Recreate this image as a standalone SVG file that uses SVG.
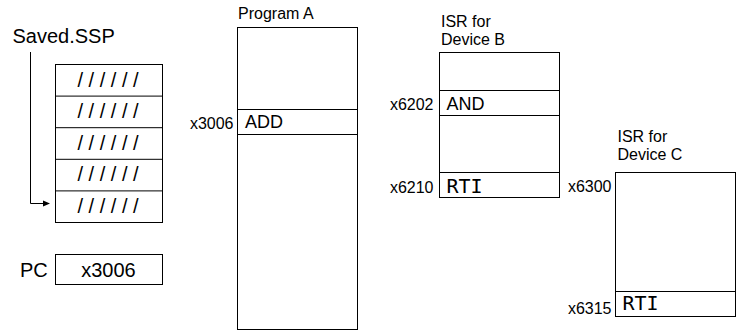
<svg xmlns="http://www.w3.org/2000/svg" width="740" height="331" viewBox="0 0 740 331">
<style>
.box{fill:#fff;stroke:#000;stroke-width:1}
.ln{stroke:#000;stroke-width:1;fill:none}
.t{font-family:"Liberation Sans",Arial,sans-serif;fill:#000}
.lab{font-size:16px}
.big{font-size:20px}
.ins{font-size:18px}
.mono{font-family:"DejaVu Sans Mono",monospace;font-size:20px;fill:#000}
</style>
<defs>
<marker id="ah" markerWidth="7" markerHeight="7" refX="6" refY="3.5" orient="auto" markerUnits="userSpaceOnUse">
<path d="M0,0.5 L7,3.5 L0,6.5 Z" fill="#000"/>
</marker>
</defs>
<rect width="740" height="331" fill="#fff"/>
<g id="stack">
<text class="t big" x="12.5" y="43">Saved.SSP</text>
<rect class="box" x="55.5" y="64.5" width="107" height="158"/>
<line class="ln" x1="55.5" y1="96.1" x2="162.5" y2="96.1"/>
<line class="ln" x1="55.5" y1="127.7" x2="162.5" y2="127.7"/>
<line class="ln" x1="55.5" y1="159.3" x2="162.5" y2="159.3"/>
<line class="ln" x1="55.5" y1="190.9" x2="162.5" y2="190.9"/>
<g class="t big" text-anchor="middle">
<text x="108" y="86.5">/ / / / / /</text>
<text x="108" y="118">/ / / / / /</text>
<text x="108" y="149.6">/ / / / / /</text>
<text x="108" y="181.2">/ / / / / /</text>
<text x="108" y="212.8">/ / / / / /</text>
</g>
</g>
<g id="pc">
<text class="t big" x="20" y="277">PC</text>
<rect class="box" x="55.5" y="254.5" width="107" height="30"/>
<text class="t big" x="108.5" y="277" text-anchor="middle">x3006</text>
</g>
<g id="programA">
<text class="t lab" x="238" y="19">Program A</text>
<rect class="box" x="237.5" y="27.5" width="120" height="302"/>
<rect class="box" x="237.5" y="109.5" width="120" height="25"/>
<text class="t ins" x="245" y="128">ADD</text>
<text class="t lab" x="233.5" y="128.5" text-anchor="end">x3006</text>
</g>
<g id="isrB">
<text class="t lab" x="441" y="26.5">ISR for</text>
<text class="t lab" x="441" y="45">Device B</text>
<rect class="box" x="439.5" y="52.5" width="120" height="145"/>
<rect class="box" x="439.5" y="90.5" width="120" height="25"/>
<rect class="box" x="439.5" y="172.5" width="120" height="25"/>
<text class="t ins" x="446.5" y="110">AND</text>
<text class="mono" x="446.5" y="193">RTI</text>
<text class="t lab" x="433.5" y="110" text-anchor="end">x6202</text>
<text class="t lab" x="433.5" y="193" text-anchor="end">x6210</text>
</g>
<g id="isrC">
<text class="t lab" x="617.5" y="141.5">ISR for</text>
<text class="t lab" x="617.5" y="160">Device C</text>
<rect class="box" x="615.5" y="172.5" width="120" height="144"/>
<rect class="box" x="615.5" y="291.5" width="120" height="25"/>
<text class="mono" x="622.5" y="309.5">RTI</text>
<text class="t lab" x="611.5" y="191.5" text-anchor="end">x6300</text>
<text class="t lab" x="611.5" y="314" text-anchor="end">x6315</text>
</g>
<g id="connectors">
<path class="ln" d="M30.5,52 L30.5,203.5 L49,203.5" marker-end="url(#ah)"/>
</g>
</svg>
